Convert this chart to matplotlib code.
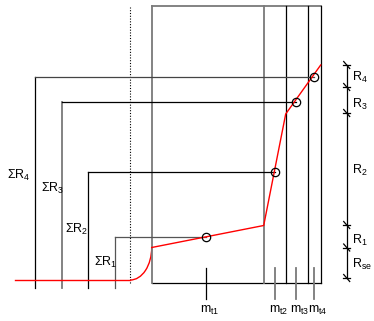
import matplotlib.pyplot as plt
from matplotlib.patches import Arc

plt.rcParams['font.family'] = ['Liberation Sans', 'DejaVu Sans']
plt.rcParams['mathtext.fontset'] = 'custom'
plt.rcParams['mathtext.rm'] = 'Liberation Sans'
plt.rcParams['mathtext.it'] = 'Liberation Sans'

# layer boundaries along the mass axis and layer centres m_t
m_edges = [0, 112, 134, 156, 169]
m_t = [54, 123, 144, 162]
m_labels = ['t1', 't2', 't3', 't4']

# cumulative resistance at the middle of each layer (Sigma R_i)
R_sum = [43, 108, 178, 203]
sum_x = [-36.4, -63.4, -89.7, -116.4]
sum_labels = ['1', '2', '3', '4']

# resistance boundaries on the right dimension line: Rse, R1..R4
R_bounds = [2, 32.5, 55, 167, 193, 215]
dim_labels = ['se', '1', '2', '3', '4']

# red curve (dew-point style profile through the wall)
red_m = [0, 112, 134, 169]
red_R = [32.5, 54.5, 166, 215]
base_m = [-136.7, -21.4]
base_R = [0, 0]

gray = '#7a7a7a'
lw = 0.9

fig = plt.figure(figsize=(3.74, 3.21), dpi=100)
ax = fig.add_axes([0, 0, 1, 1])
ax.set_xlim(-151.7, 222.3)
ax.set_ylim(-41, 280)
ax.axis('off')

# outer box
top, bot = 274.3, -3
ax.plot([m_edges[0], m_edges[-1]], [top, top], color=gray, lw=1.3)
ax.plot([m_edges[0], m_edges[-1]], [bot, bot], color='k', lw=lw)
ax.plot([m_edges[0], m_edges[0]], [bot, top], color=gray, lw=1.3)
ax.plot([m_edges[1], m_edges[1]], [bot, top], color=gray, lw=1.3)
for m in m_edges[2:]:
    ax.plot([m, m], [bot, top], color='k', lw=lw)

# dotted line
ax.plot([-21.4, -21.4], [bot, 273], color='k', lw=0.8, ls=(0, (1, 1.5)))

# sum R brackets
vcols = ['#555555', 'k', gray, 'k']
hcols = ['#555555', 'k', 'k', '#444444']
for i in range(4):
    ax.plot([sum_x[i], sum_x[i]], [-7.7, R_sum[i]], color=vcols[i],
            lw=1.3 if vcols[i] == gray else lw)
    ax.plot([sum_x[i], m_t[i]], [R_sum[i], R_sum[i]], color=hcols[i], lw=lw)

# red profile
ax.plot(base_m, base_R, color='red', lw=1)
ax.add_patch(Arc((-21.4, 32.5), 42.8, 65, theta1=270, theta2=360,
                 color='red', lw=1))
ax.plot(red_m, red_R, color='red', lw=1)
ax.plot(m_t, R_sum, 'o', mfc='none', mec='k', ms=6, mew=0.9)

# m_t ticks and labels
for i in range(4):
    ax.plot([m_t[i], m_t[i]], [-18.5, 12], color='k' if i == 0 else gray,
            lw=lw if i == 0 else 1.3)
    ax.text(m_t[i] - 6, -30, 'm$_{%s}$' % m_labels[i], fontsize=9,
            ha='left', va='center')

sum_pos = [(-57.7, 17.5), (-86.7, 51), (-111, 91.3), (-144.7, 104.5)]
for (x, y), s in zip(sum_pos, sum_labels):
    ax.text(x, y, 'ΣR$_{%s}$' % s, fontsize=9, ha='left', va='center')

# right dimension line
dx = 195
ax.plot([dx, dx], [R_bounds[0], R_bounds[-1]], color='k', lw=lw)
for r in R_bounds:
    ax.plot([dx - 3.5, dx + 3.5], [r, r], color='k', lw=lw)
    ax.plot([dx - 3, dx + 3], [r + 3.5, r - 3.5], color='k', lw=lw)
dim_y = [16, 40, 110, 176, 202.3]
for y, s in zip(dim_y, dim_labels):
    ax.text(199.8, y, 'R$_{%s}$' % s, fontsize=9, ha='left', va='center')

plt.savefig('out.png', dpi=100)
